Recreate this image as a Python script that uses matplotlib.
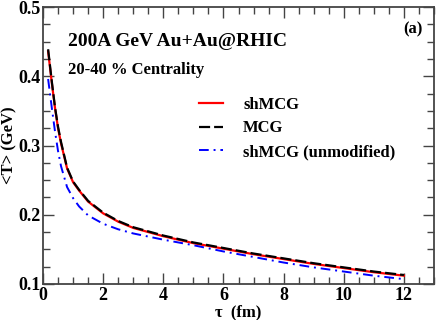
import matplotlib
matplotlib.use("Agg")
import matplotlib.pyplot as plt
from matplotlib.ticker import MultipleLocator

plt.rcParams['font.family'] = ['Liberation Serif', 'DejaVu Serif']
plt.rcParams['font.weight'] = 'bold'

tau = [0.17, 0.3, 0.4, 0.5, 0.6, 0.8, 1.0, 1.2, 1.5, 2.0, 2.5, 3.0, 4.0, 5.0, 6.0, 7.0, 8.0, 9.0, 10.0, 11.0, 12.0]
T_shmcg = [0.436, 0.388, 0.354, 0.325, 0.303, 0.267, 0.247, 0.235, 0.219, 0.202, 0.190, 0.181, 0.169, 0.159, 0.151, 0.143, 0.136, 0.129, 0.123, 0.117, 0.112]
T_mcg = [0.439, 0.390, 0.355, 0.327, 0.305, 0.268, 0.248, 0.236, 0.220, 0.203, 0.191, 0.182, 0.170, 0.160, 0.152, 0.144, 0.137, 0.130, 0.124, 0.118, 0.113]
T_unmod = [0.396, 0.352, 0.320, 0.292, 0.270, 0.240, 0.224, 0.212, 0.199, 0.187, 0.179, 0.173, 0.164, 0.156, 0.147, 0.139, 0.131, 0.124, 0.118, 0.112, 0.107]

fig = plt.figure(figsize=(4.42, 3.2), dpi=100)
ax = fig.add_axes([43/442, 1-284/320, (434-43)/442, (284-7)/320])

ax.plot(tau, T_shmcg, color='red', lw=1.6, label='shMCG', zorder=2)
ax.plot(tau, T_mcg, color='black', lw=1.6, dashes=(5, 1.8), label='MCG', zorder=3)
ax.plot(tau, T_unmod, color='blue', lw=1.4, dashes=(5, 2.5, 1, 2.5), label='shMCG (unmodified)', zorder=2)

ax.set_xlim(0, 13)
ax.set_ylim(0.1, 0.5)
ax.xaxis.set_minor_locator(MultipleLocator(0.5))
ax.yaxis.set_minor_locator(MultipleLocator(0.025))
ax.set_xticks([0, 2, 4, 6, 8, 10, 12])
ax.set_xticklabels(['0', '2', '4', '6', '8', '10', '12'])
ax.set_yticks([0.1, 0.2, 0.3, 0.4, 0.5])
ax.set_yticklabels(['0.1', '0.2', '0.3', '0.4', '0.5'])
ax.tick_params(which='both', direction='in', top=True, right=True, color='#444444', width=1.0)
ax.tick_params(which='major', length=8, labelsize=13)
ax.tick_params(axis='x', which='major', pad=2)
ax.tick_params(axis='y', which='major', pad=2)
ax.tick_params(which='minor', length=5)
for lab in ax.get_xticklabels() + ax.get_yticklabels():
    lab.set_fontweight('bold')
for s in ax.spines.values():
    s.set_linewidth(1.3)
    s.set_color('#444444')

ax.set_xlabel('τ  (fm)', fontsize=12, fontweight='bold', va='center')
ax.xaxis.set_label_coords(0.5, (284-312)/277)
ax.set_ylabel('<T> (GeV)', fontsize=12, fontweight='bold', va='center')
ax.yaxis.set_label_coords(-(43-9)/391, 0.5)

fig.text(68/442, 1-42/320, '200A GeV Au+Au@RHIC', fontsize=14, fontweight='bold', va='center')
fig.text(68/442, 1-70/320, '20-40 % Centrality', fontsize=12, fontweight='bold', va='center')
fig.text(413/442, 1-29/320, '(a)', fontsize=12, fontweight='bold', va='center', ha='center')

leg = ax.legend(loc='upper left', bbox_to_anchor=((199-43)/391, (284-97)/277), frameon=False,
                fontsize=12, handlelength=1.45, handletextpad=1.2, labelspacing=0.45, borderpad=0, borderaxespad=0)
for t in leg.get_texts():
    t.set_fontweight('bold')

fig.savefig('out.png', dpi=100)
